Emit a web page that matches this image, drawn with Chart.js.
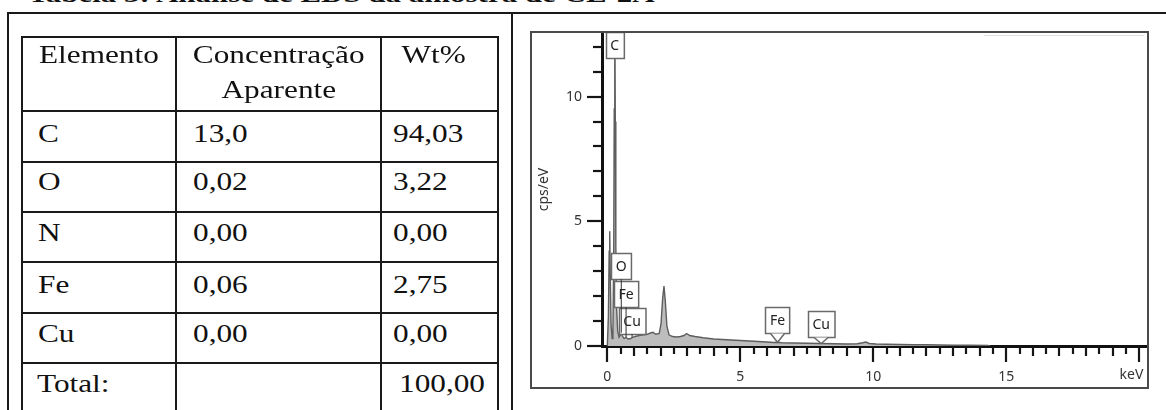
<!DOCTYPE html>
<html>
<head>
<meta charset="utf-8">
<script src="https://cdn.jsdelivr.net/npm/chart.js@4.4.1/dist/chart.umd.min.js"></script>
<style>
body { margin: 0; background: #fff; width: 1166px; height: 410px; overflow: hidden; position: relative; font-family: "Liberation Serif", serif; color: #111; }
.ln { position: absolute; background: #1a1a1a; }
.txt { position: absolute; font-size: 25px; line-height: 25px; white-space: nowrap; }
.txt span { display: inline-block; transform: scaleX(1.25); transform-origin: left center; }
.txt.center { text-align: center; }
.txt.center span { transform-origin: center center; }
#caption { position: absolute; left: 28px; top: -18px; font-weight: bold; font-size: 24px; line-height: 24px; white-space: nowrap; transform: scaleX(1.29); transform-origin: left center; }
#chartBox { position: absolute; left: 530px; top: 31px; width: 619px; height: 358px; border: 2px solid #4a4a4a; box-sizing: border-box; }
#eds { position: absolute; left: 0; top: 0; }
#topRule { position: absolute; left: 984px; top: 35px; width: 160px; height: 1px; background: #e2e2e2; }
</style>
</head>
<body>
<div id="caption">Tabela 3: Análise de EDS da amostra de CE-2A</div>
<div id="chartBox"><canvas id="eds" width="615" height="354"></canvas></div>
<div id="topRule"></div>

<script>
// table values
const elements = ['C', 'O', 'N', 'Fe', 'Cu'];
const concentration = ['13,0', '0,02', '0,00', '0,06', '0,00'];
const weightPct = ['94,03', '3,22', '0,00', '2,75', '0,00'];
const totalWt = '100,00';

// EDS spectrum (keV vs cps/eV)
const energyKeV = [0.00, 0.04, 0.07, 0.09, 0.11, 0.14, 0.18, 0.21, 0.24, 0.26, 0.28, 0.30, 0.32, 0.35, 0.39, 0.44, 0.50, 0.53, 0.57, 0.63,
    0.70, 0.78, 0.88, 0.95, 1.05, 1.2, 1.35, 1.5, 1.62, 1.72, 1.82, 1.95, 2.02, 2.08, 2.13, 2.18, 2.24, 2.32, 2.45, 2.6,
    2.75, 2.88, 2.98, 3.1, 3.3, 3.6, 4.0, 4.5, 5.0, 5.5, 6.0, 6.25, 6.4, 6.55, 7.0, 7.5, 8.0, 8.5, 9.0, 9.4,
    9.6, 9.72, 9.85, 10.1, 10.5, 11.0, 11.5, 12.0, 12.5, 13.0, 13.6, 14.3, 14.4];
const countsPerEV = [0, 1.2, 3.8, 4.6, 2.9, 0.9, 0.3, 0.6, 3.5, 9.5, 14, 9.0, 4.0, 1.5, 0.6, 0.35, 0.45, 0.55, 0.4, 0.3,
    0.35, 0.28, 0.3, 0.35, 0.38, 0.42, 0.45, 0.47, 0.52, 0.55, 0.47, 0.5, 0.9, 1.9, 2.4, 1.8, 0.8, 0.45, 0.38, 0.36,
    0.38, 0.42, 0.5, 0.42, 0.38, 0.33, 0.28, 0.25, 0.22, 0.19, 0.16, 0.14, 0.15, 0.13, 0.12, 0.11, 0.1, 0.09, 0.08, 0.09,
    0.13, 0.16, 0.1, 0.08, 0.07, 0.06, 0.05, 0.05, 0.04, 0.03, 0.03, 0.02, 0];

const xLabelValues = [0, 5, 10, 15];
const yLabelValues = [0, 5, 10];
const peakNames = ['C', 'O', 'Fe', 'Cu', 'Fe', 'Cu'];
const peakKeV = [0.277, 0.525, 0.705, 0.93, 6.40, 8.04];

// ---- page frame + table ----
function addLine(x, y, w, h) {
    const d = document.createElement('div');
    d.className = 'ln';
    d.style.left = x + 'px'; d.style.top = y + 'px';
    d.style.width = w + 'px'; d.style.height = h + 'px';
    document.body.appendChild(d);
}
function addText(str, left, baseline, width) {
    const d = document.createElement('div');
    d.className = width ? 'txt center' : 'txt';
    d.style.left = left + 'px';
    d.style.top = (baseline - 21) + 'px';
    if (width) d.style.width = width + 'px';
    const s = document.createElement('span');
    s.textContent = str;
    d.appendChild(s);
    document.body.appendChild(d);
}

// outer frame
addLine(7, 12, 1200, 2);
addLine(7, 12, 2, 420);
addLine(511, 12, 2, 420);

const colX = [22, 176, 381, 498];
const rowY = [37, 111, 162, 212, 262, 313, 363];
rowY.forEach(y => addLine(colX[0] - 1, y - 1, colX[3] - colX[0] + 2, 2));
colX.forEach(x => addLine(x - 1, rowY[0] - 1, 2, 400));

addText('Elemento', colX[0], 63, colX[1] - colX[0]);
addText('Concentração', colX[1], 63, colX[2] - colX[1]);
addText('Aparente', colX[1], 98, colX[2] - colX[1]);
addText('Wt%', colX[2], 63, 106);

const rowBase = [142, 190, 241, 293, 342];
elements.forEach((el, i) => {
    addText(el, 38, rowBase[i]);
    addText(concentration[i], 193, rowBase[i]);
    addText(weightPct[i], 393, rowBase[i]);
});
addText('Total:', 37, 392);
addText(totalWt, 399, 392);

// ---- chart ----
function spectrumAt(e) {
    for (let i = 1; i < energyKeV.length; i++) {
        if (energyKeV[i] >= e) {
            const t = (e - energyKeV[i - 1]) / (energyKeV[i] - energyKeV[i - 1]);
            return countsPerEV[i - 1] + t * (countsPerEV[i] - countsPerEV[i - 1]);
        }
    }
    return 0;
}

// box tops (in cps/eV) for the element markers
const peakBoxTop = [12.55, 3.72, 2.6, 1.52, 1.56, 1.4];

const edsDecor = {
    id: 'edsDecor',
    afterDraw(chart) {
        const {ctx, chartArea} = chart;
        const x = chart.scales.x, y = chart.scales.y;
        ctx.save();
        ctx.strokeStyle = '#151515';
        ctx.lineWidth = 2.2;
        x.ticks.forEach(t => {
            const px = Math.round(x.getPixelForValue(t.value));
            const len = t.value % 5 === 0 ? 16 : (t.value % 1 === 0 ? 10 : 8);
            ctx.beginPath();
            ctx.moveTo(px, chartArea.bottom);
            ctx.lineTo(px, chartArea.bottom + len);
            ctx.stroke();
        });
        y.ticks.forEach(t => {
            const py = Math.round(y.getPixelForValue(t.value));
            const len = t.value % 5 === 0 ? 15 : 9;
            ctx.beginPath();
            ctx.moveTo(chartArea.left, py);
            ctx.lineTo(chartArea.left - len, py);
            ctx.stroke();
        });

        ctx.font = '14px "Noto Sans"';
        ctx.fillStyle = '#333';
        ctx.textAlign = 'right';
        ctx.textBaseline = 'middle';
        ctx.fillText('keV', x.getPixelForValue(20) + 4, chartArea.bottom + 29);

        // element marker boxes
        ctx.textAlign = 'center';
        const boxes = peakNames.map((name, i) => {
            const w = ctx.measureText(name).width + 9;
            const cx = x.getPixelForValue(peakKeV[i]);
            const top = i === 0 ? chartArea.top - 1 : y.getPixelForValue(peakBoxTop[i]);
            return {name, cx, w, top, h: 26, tip: y.getPixelForValue(spectrumAt(peakKeV[i]))};
        });
        ctx.lineWidth = 1.5;
        boxes.forEach((b, i) => {
            const l = Math.round(b.cx - b.w / 2) + 0.5, t = Math.round(b.top) + 0.5;
            ctx.fillStyle = '#fff';
            ctx.strokeStyle = '#6a6a6a';
            ctx.fillRect(l, t, b.w, b.h);
            ctx.strokeRect(l, t, b.w, b.h);
            if (peakKeV[i] > 5) {
                const bt = t + b.h;
                ctx.beginPath();
                ctx.moveTo(b.cx - 7, bt);
                ctx.lineTo(b.cx, b.tip);
                ctx.lineTo(b.cx + 7, bt);
                ctx.closePath();
                ctx.fill();
                ctx.beginPath();
                ctx.moveTo(b.cx - 7, bt);
                ctx.lineTo(b.cx, b.tip);
                ctx.lineTo(b.cx + 7, bt);
                ctx.stroke();
            }
            ctx.fillStyle = '#222';
            ctx.fillText(b.name, b.cx, t + b.h / 2 + 1);
        });
        // pointer lines for the low-energy markers
        ctx.strokeStyle = '#333';
        ctx.lineWidth = 1;
        boxes.forEach((b, i) => {
            if (i === 0 || peakKeV[i] > 5) return;
            ctx.beginPath();
            ctx.moveTo(b.cx, b.top + b.h);
            ctx.lineTo(x.getPixelForValue(peakKeV[i]), b.tip);
            ctx.stroke();
        });
        ctx.restore();
    }
};

const tickFont = {family: 'Noto Sans', size: 14};

new Chart(document.getElementById('eds'), {
    type: 'line',
    data: {
        datasets: [{
            data: energyKeV.map((e, i) => ({x: e, y: countsPerEV[i]})),
            borderColor: '#5e5e5e',
            borderWidth: 1.4,
            backgroundColor: '#bdbdbd',
            fill: 'origin',
            pointRadius: 0,
            tension: 0
        }]
    },
    options: {
        responsive: false,
        animation: false,
        devicePixelRatio: 1,
        layout: {padding: 0},
        plugins: {legend: {display: false}, tooltip: {enabled: false}},
        scales: {
            x: {
                type: 'linear',
                min: -0.2,
                max: 20.29,
                grid: {display: false, drawTicks: false},
                border: {display: true, color: '#111', width: 3},
                ticks: {
                    stepSize: 0.5, maxTicksLimit: 100, autoSkip: false, includeBounds: false, maxRotation: 0,
                    padding: 23, color: '#333', font: tickFont,
                    callback: v => xLabelValues.includes(v) ? String(v) : ''
                },
                afterFit: s => { s.height = 41; s.paddingLeft = 0; s.paddingRight = 0; }
            },
            y: {
                type: 'linear',
                min: 0,
                max: 12.55,
                grid: {display: false, drawTicks: false},
                border: {display: true, color: '#111', width: 3},
                ticks: {
                    stepSize: 1, maxTicksLimit: 100, autoSkip: false, includeBounds: false,
                    padding: 20, color: '#333', font: tickFont,
                    callback: v => yLabelValues.includes(v) ? String(v) : ''
                },
                title: {display: true, text: 'cps/eV', color: '#333', font: tickFont, padding: {top: 4, bottom: 0}},
                afterFit: s => { s.width = 70; s.paddingTop = 0; s.paddingBottom = 0; }
            }
        }
    },
    plugins: [edsDecor]
});
</script>
</body>
</html>
